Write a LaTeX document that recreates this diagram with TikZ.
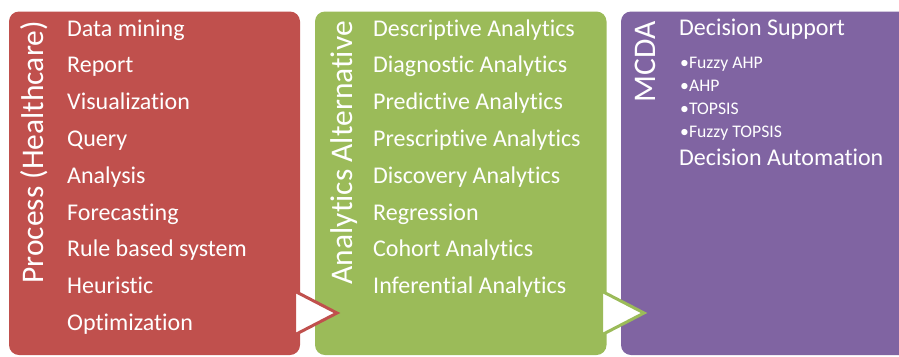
\documentclass[tikz,border=0pt]{standalone}
\usepackage{fontspec}
\setmainfont{Carlito}[Ligatures={NoCommon,NoRequired,NoContextual}]
\definecolor{procred}{HTML}{C0504D}
\definecolor{anagreen}{HTML}{9BBB59}
\definecolor{mcdapurple}{HTML}{8064A2}
\begin{document}
\begin{tikzpicture}[x=1bp,y=-1bp,
  panel/.style={rounded corners=10bp},
  item/.style={anchor=base west,inner sep=0pt,text=white,font=\fontsize{24bp}{28bp}\selectfont},
  subitem/.style={anchor=base west,inner sep=0pt,text=white,font=\fontsize{17.7bp}{21bp}\selectfont},
  heading/.style={anchor=base east,rotate=90,inner sep=0pt,text=white,font=\fontsize{31.5bp}{36bp}\selectfont},
  pointer/.style={fill=white,line width=3bp,line join=miter}
]
\useasboundingbox (0,0) rectangle (899,356);

% three panels
\fill[procred,panel] (9,11.5) rectangle (300,355);
\fill[anagreen,panel] (315,11.5) rectangle (606.5,355);
\fill[mcdapurple,panel] (621,11.5) rectangle (930,355);

% arrow heads between the panels
\draw[pointer,draw=procred] (294.5,291) -- (337,313) -- (294.5,335) -- cycle;
\draw[pointer,draw=anagreen] (601.5,291) -- (644,313) -- (601.5,335) -- cycle;

% panel headings
\node[heading] (hproc) at (43.5,21) {Process (Healthcare)};
\node[heading] (hana) at (352.5,21) {Analytics Alternative};
\node[heading] (hmcda) at (655,21) {MCDA};

% process items
\foreach \t [count=\i from 0] in {Data mining,Report,Visualization,Query,Analysis,Forecasting,Rule based system,Heuristic,Optimization}
  \node[item] (p\i) at (67,36+36.8*\i) {\t};

% analytics items
\foreach \t [count=\i from 0] in {Descriptive Analytics,Diagnostic Analytics,Predictive Analytics,Prescriptive Analytics,Discovery Analytics,Regression,Cohort Analytics,Inferential Analytics}
  \node[item] (a\i) at (373,36+36.8*\i) {\t};

% decision items
\node[item] (ds) at (679,35) {Decision Support};
\foreach \t [count=\i from 0] in {Fuzzy AHP,AHP,TOPSIS,Fuzzy TOPSIS}
  \node[subitem] (m\i) at (680,68+23*\i) {•\t};
\node[item] (da) at (679,165.5) {Decision Automation};
\end{tikzpicture}
\end{document}
